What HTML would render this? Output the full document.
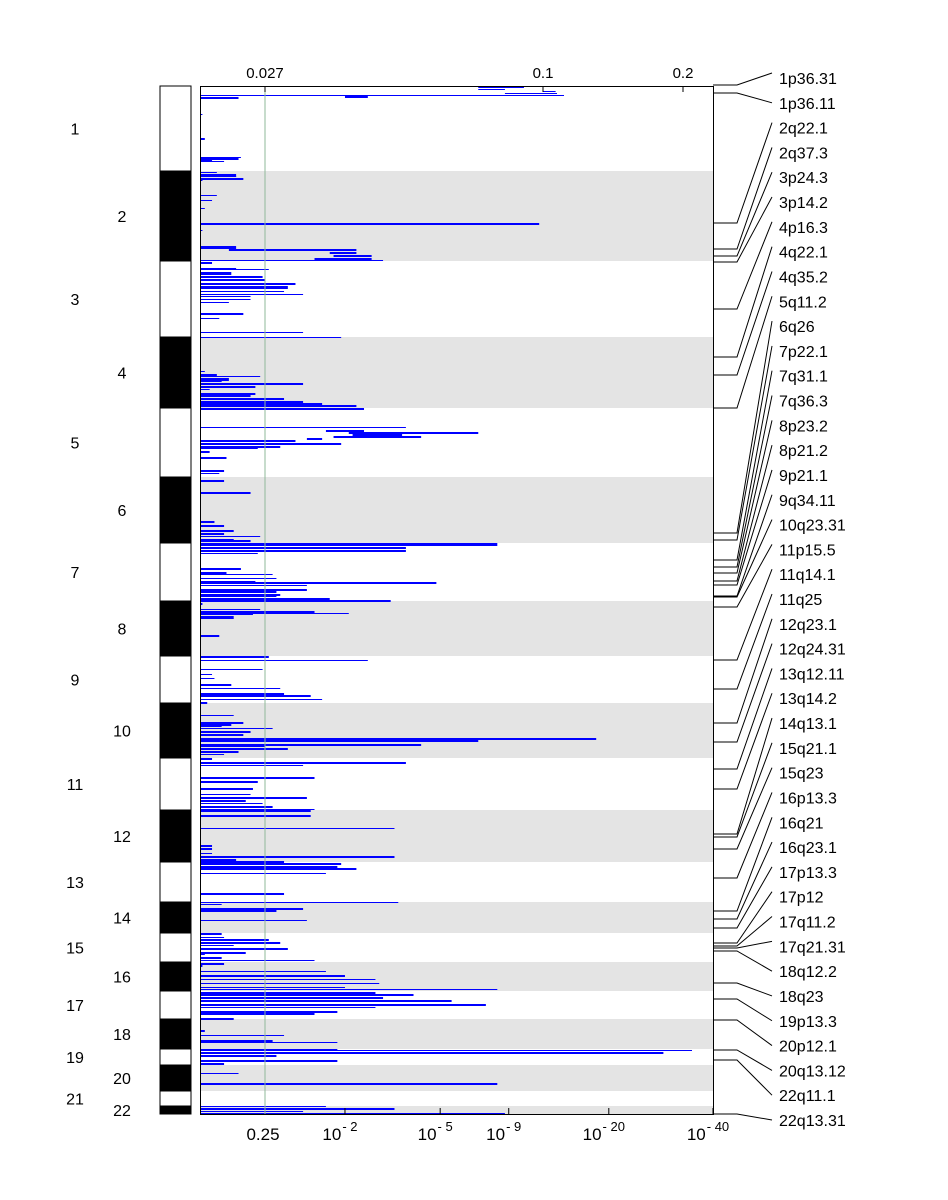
<!DOCTYPE html>
<html><head><meta charset="utf-8"><style>
html,body{margin:0;padding:0;background:#fff;}
svg{display:block;font-family:"Liberation Sans",sans-serif;}
</style></head><body>
<svg id="chart" width="948" height="1200" viewBox="0 0 948 1200" xmlns="http://www.w3.org/2000/svg"></svg>
<script>
// ---- data ----
const chromNames = ["1","2","3","4","5","6","7","8","9","10","11","12","13","14","15","16","17","18","19","20","21","22"];
const chromStarts = [0,85,175,251,322,391,457,515,570,617,672,724,776,816,847,876,905,933,963,979,1005,1020];
const genomeLength = 1028;
const topTickValues = [0.027,0.1,0.2];
const topTickLabels = ["0.027","0.1","0.2"];
const bottomTickValues = [0.027,0.048,0.073,0.091,0.147,0.21];
const bottomTickBase = ["0.25","10","10","10","10","10"];
const bottomTickExp = ["","-2","-5","-9","-20","-40"];
// genomic position (rows), thickness (rows), segment start G-score, G-score
const barPos = [1,3,5,7,9,10,11,28,52,71,72,74,75,86,88,90,92,94,109,114,122,137,138,144,160,163,166,169,172,174,176,182,183,186,190,193,197,200,202,205,208,210,213,216,227,228,232,246,251,285,288,290,292,294,297,300,303,307,309,312,315,317,319,322,341,344,346,348,350,352,354,357,358,360,362,365,371,384,387,394,406,407,435,439,444,447,450,453,454,457,461,464,467,482,486,488,492,495,496,499,503,505,508,509,512,514,517,523,525,527,528,530,549,570,574,583,588,592,598,602,607,609,613,616,629,636,638,640,642,645,648,652,654,658,660,662,665,668,672,676,679,691,695,702,708,711,714,717,720,723,724,729,742,759,762,767,770,773,775,777,780,782,787,807,816,818,822,824,834,847,851,853,856,859,862,866,868,871,874,877,879,885,889,893,897,901,903,906,908,911,914,918,921,925,927,932,944,949,954,956,963,964,966,969,974,977,987,997,1020,1022,1025,1027];
const barThick = [1,1,1,1,1,2,2,1,2,1,2,2,1,1,3,1,2,1,1,1,1,1,1,1,3,2,2,2,2,1,2,2,1,3,2,2,2,3,1,1,1,1,1,1,2,1,1,1,1,1,2,1,3,2,2,2,1,2,2,2,2,3,2,2,1,2,2,2,2,2,2,2,1,2,1,2,2,2,1,2,2,1,2,2,2,2,1,2,2,3,2,2,1,2,2,1,1,1,2,1,2,2,2,2,2,2,2,1,2,1,1,3,2,2,1,1,1,1,2,1,2,2,1,2,1,2,2,1,1,2,2,2,2,2,1,2,2,1,2,2,1,2,2,2,1,2,2,1,2,1,2,2,1,2,2,1,2,2,2,2,2,2,1,2,1,1,2,2,1,2,1,2,2,1,2,2,1,2,1,2,2,1,2,1,1,1,1,2,2,2,2,2,1,2,2,2,2,1,2,1,2,1,2,2,2,2,1,2,1,2,1,1,2,2,2,2];
const barStart = {0:0.083,1:0.083,2:0.100,3:0.090,5:0.048,25:0.012,26:0.044,27:0.045,28:0.040,65:0.043,66:0.049,67:0.050,68:0.045,69:0.038};
const barScore = [0.095,0.090,0.109,0.110,0.115,0.054,0.016,0.001,0.002,0.017,0.016,0.005,0.010,0.007,0.015,0.015,0.018,0.001,0.007,0.005,0.002,0.099,0.099,0.001,0.015,0.051,0.051,0.055,0.055,0.058,0.005,0.015,0.028,0.013,0.026,0.027,0.035,0.033,0.029,0.032,0.037,0.021,0.021,0.012,0.018,0.004,0.008,0.037,0.047,0.002,0.007,0.025,0.012,0.009,0.037,0.023,0.004,0.023,0.021,0.032,0.037,0.042,0.051,0.053,0.064,0.053,0.083,0.063,0.068,0.042,0.035,0.047,0.035,0.031,0.024,0.004,0.011,0.010,0.008,0.010,0.021,0.006,0.006,0.010,0.014,0.010,0.025,0.014,0.021,0.088,0.064,0.064,0.024,0.017,0.011,0.029,0.030,0.023,0.072,0.038,0.038,0.030,0.031,0.030,0.044,0.060,0.001,0.025,0.040,0.049,0.022,0.014,0.008,0.028,0.054,0.026,0.005,0.006,0.013,0.031,0.032,0.039,0.042,0.003,0.014,0.018,0.013,0.009,0.029,0.021,0.018,0.138,0.083,0.068,0.027,0.033,0.016,0.010,0.005,0.064,0.037,0.040,0.024,0.022,0.021,0.038,0.019,0.026,0.029,0.040,0.039,0.039,0.061,0.005,0.005,0.005,0.061,0.015,0.032,0.047,0.046,0.051,0.043,0.032,0.062,0.009,0.037,0.030,0.038,0.009,0.010,0.028,0.031,0.014,0.033,0.019,0.002,0.009,0.040,0.010,0.001,0.043,0.048,0.056,0.057,0.048,0.088,0.056,0.066,0.058,0.076,0.085,0.056,0.046,0.040,0.014,0.002,0.032,0.029,0.046,0.046,0.203,0.186,0.030,0.046,0.010,0.016,0.088,0.043,0.061,0.037,0.090,0.090];
const peakNames = ["1p36.31","1p36.11","2q22.1","2q37.3","3p24.3","3p14.2","4p16.3","4q22.1","4q35.2","5q11.2","6q26","7p22.1","7q31.1","7q36.3","8p23.2","8p21.2","9p21.1","9q34.11","10q23.31","11p15.5","11q14.1","11q25","12q23.1","12q24.31","13q12.11","13q14.2","14q13.1","15q21.1","15q23","16p13.3","16q21","16q23.1","17p13.3","17p12","17q11.2","17q21.31","18q12.2","18q23","19p13.3","20p12.1","20q13.12","22q11.1","22q13.31"];
const peakPos = [-1,7,137,163,170,176,223,271,289,322,447,454,474,481,487,495,499,510,511,521,574,603,637,656,683,703,748,751,763,792,825,833,842,857,860,862,865,897,913,934,964,974,1028];

// ---- layout ----
const NS="http://www.w3.org/2000/svg";
const svg=document.getElementById('chart');
const PX0=200, PX1=713, PY0=86, PY1=1114;
const knotsV=[0,0.027,0.1,0.2,0.21], knotsX=[200,265,543,683,713];
function xScale(v){for(let i=0;i<knotsV.length-1;i++){if(v<=knotsV[i+1]||i===knotsV.length-2){return knotsX[i]+(v-knotsV[i])/(knotsV[i+1]-knotsV[i])*(knotsX[i+1]-knotsX[i]);}}}
function yScale(g){return PY0+g/genomeLength*(PY1-PY0);}
function el(tag,attrs,parent){const e=document.createElementNS(NS,tag);for(const k in attrs)e.setAttribute(k,attrs[k]);(parent||svg).appendChild(e);return e;}

chromNames.forEach((c,i)=>{const y0=yScale(chromStarts[i]),y1=yScale(i+1<chromStarts.length?chromStarts[i+1]:genomeLength);
 if(i%2===1){const r=el('rect',{x:PX0,y:y0,width:PX1-PX0,height:y1-y0,fill:'#e4e4e4'});
  
  }
 const ib=el('rect',{x:160,y:y0,width:31,height:y1-y0,fill:i%2?'#000':'#fff',stroke:'#000','stroke-width':1});
 
 
 const t=el('text',{x:i%2?122:75,y:(y0+y1)/2+6,'text-anchor':'middle','font-size':16,fill:'#000'});
 t.textContent=c;
 
 
});
for(let i=0;i<barPos.length;i++){
 const y=yScale(barPos[i]);const h=barThick[i]*(PY1-PY0)/genomeLength;
 const xs=xScale(barStart[i]||0);
 const r=el('rect',{x:xs,y:y,width:Math.max(1,xScale(barScore[i])-xs),height:h,fill:'#0000ff'});
 
 
}
const th=el('line',{x1:xScale(0.027),x2:xScale(0.027),y1:PY0,y2:PY1,stroke:'#8fb89a','stroke-width':1});


const fr=el('rect',{x:PX0+0.5,y:PY0+0.5,width:PX1-PX0,height:PY1-PY0,fill:'none',stroke:'#000','stroke-width':1});


topTickValues.forEach((v,i)=>{const x=xScale(v);
 el('line',{x1:x,x2:x,y1:PY0,y2:PY0+6,stroke:'#000'});
 const t=el('text',{x:x,y:78,'text-anchor':'middle','font-size':15});t.textContent=topTickLabels[i];
 
 
});
bottomTickValues.forEach((v,i)=>{const x=xScale(v);
 if(i>0)el('line',{x1:x,x2:x,y1:PY1-6,y2:PY1,stroke:'#000'});
 const t=el('text',{x:i===0?x-2:x-5,y:1140,'text-anchor':'middle','font-size':17});
 t.textContent=bottomTickBase[i];
 if(bottomTickExp[i]){const s=el('tspan',{dy:-9,'font-size':13,dx:1},t);s.textContent=bottomTickExp[i].replace('-','- ');}
 
 
});
peakNames.forEach((n,i)=>{const ly=78+i*(1120-78)/(peakNames.length-1);
 const ty=Math.max(PY0-1,yScale(peakPos[i]));
 const p=el('polyline',{points:`${PX1},${ty} ${PX1+24},${ty} ${772},${ly+(ty<ly?0:-5)}`,fill:'none',stroke:'#000','stroke-width':1});
 
 
 const t=el('text',{x:779,y:ly+6,'font-size':16});t.textContent=n;
 
 
});
</script>
</body></html>
